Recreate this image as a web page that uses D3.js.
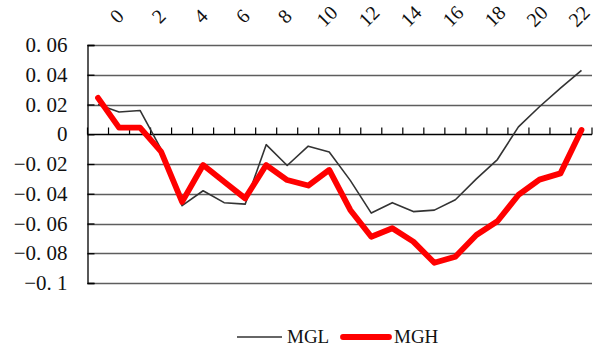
<!DOCTYPE html>
<html>
<head>
<meta charset="utf-8">
<script src="https://cdn.jsdelivr.net/npm/d3@7"></script>
<style>
  html, body { margin: 0; padding: 0; background: #fff; }
  svg { display: block; }
  text { font-family: "Liberation Serif", "Times New Roman", serif; fill: #111; }
</style>
</head>
<body>
<svg id="chart" width="599" height="350"></svg>
<script>
const categories = [-1, 0, 1, 2, 3, 4, 5, 6, 7, 8, 9, 10, 11, 12, 13, 14, 15, 16, 17, 18, 19, 20, 21, 22];
const mgl = [0.020, 0.015, 0.016, -0.010, -0.048, -0.038, -0.046, -0.047, -0.007, -0.021, -0.008, -0.012,
             -0.031, -0.053, -0.046, -0.052, -0.051, -0.044, -0.030, -0.017, 0.005, 0.0185, 0.031, 0.043];
const mgh = [0.0245, 0.0044, 0.0044, -0.0117, -0.0455, -0.0207, -0.0319, -0.0431, -0.0207, -0.0308, -0.0345, -0.024,
             -0.0509, -0.0689, -0.0632, -0.0722, -0.0864, -0.0823, -0.0677, -0.0585, -0.0408, -0.0305, -0.0263, 0.0029];
const yTicks = [0.06, 0.04, 0.02, 0, -0.02, -0.04, -0.06, -0.08, -0.1];
const yTickLabels = ["0. 06", "0. 04", "0. 02", "0", "\u22120. 02", "\u22120. 04", "\u22120. 06", "\u22120. 08", "\u22120. 1"];
const seriesNames = ["MGL", "MGH"];

const svg = d3.select("#chart");
const pLeft = 87.5, pRight = 592, pTop = 45, pBottom = 283;

const x = d3.scaleBand().domain(categories).range([pLeft, pRight]).padding(0);
const y = d3.scaleLinear().domain([-0.1, 0.06]).range([pBottom, pTop]);
const cx = d => x(d) + x.bandwidth() / 2;

// gridlines
svg.append("g").selectAll("line").data(yTicks.filter(v => v !== 0)).join("line")
  .attr("x1", pLeft).attr("x2", pRight)
  .attr("y1", d => Math.round(y(d)) + 0.5).attr("y2", d => Math.round(y(d)) + 0.5)
  .attr("stroke", "#5e5e5e").attr("stroke-width", 1.4);

// y axis
const yAxis = d3.axisLeft(y).tickValues(yTicks).tickSize(-7).tickPadding(26)
  .tickFormat((d, i) => yTickLabels[i]);
const gy = svg.append("g").attr("transform", `translate(${pLeft},0)`).call(yAxis);
gy.select(".domain").attr("stroke", "#000").attr("stroke-width", 1.3);
gy.selectAll(".tick line").attr("stroke", "#000").attr("stroke-width", 1.3);
gy.selectAll(".tick text").attr("font-size", 21).attr("fill", "#111")
  .attr("font-family", "'Liberation Serif', serif").attr("dx", "6");

// x axis at zero (ticks upward at category boundaries)
const y0 = Math.round(y(0)) + 0.5;
const gx = svg.append("g");
gx.append("line").attr("x1", pLeft).attr("x2", pRight).attr("y1", y0).attr("y2", y0)
  .attr("stroke", "#000").attr("stroke-width", 1.3);
gx.selectAll("line.tk").data(categories.concat(["end"])).join("line").attr("class", "tk")
  .attr("x1", (d, i) => pLeft + i * x.bandwidth()).attr("x2", (d, i) => pLeft + i * x.bandwidth())
  .attr("y1", y0).attr("y2", y0 - 7)
  .attr("stroke", "#000").attr("stroke-width", 1.2);

// x labels at top, rotated
svg.append("g").selectAll("text").data(categories.filter(c => c % 2 === 0)).join("text")
  .attr("transform", d => `translate(${cx(d) - 2.5},16) rotate(-45)`)
  .attr("text-anchor", "middle").attr("dominant-baseline", "central")
  .attr("font-size", 20).text(d => d);

// lines
const line = d3.line().x((d, i) => cx(categories[i])).y(d => y(d));
svg.append("path").datum(mgl).attr("d", line)
  .attr("fill", "none").attr("stroke", "#333").attr("stroke-width", 1.6).attr("stroke-linejoin", "round");
svg.append("path").datum(mgh).attr("d", line)
  .attr("fill", "none").attr("stroke", "#ff0000").attr("stroke-width", 5.8)
  .attr("stroke-linejoin", "round").attr("stroke-linecap", "round");

// legend
const lg = svg.append("g");
lg.append("line").attr("x1", 237).attr("x2", 282).attr("y1", 337).attr("y2", 337)
  .attr("stroke", "#333").attr("stroke-width", 1.6);
lg.append("text").attr("x", 287).attr("y", 343).attr("font-size", 19).text(seriesNames[0]);
lg.append("line").attr("x1", 343).attr("x2", 389).attr("y1", 337).attr("y2", 337)
  .attr("stroke", "#ff0000").attr("stroke-width", 5.8).attr("stroke-linecap", "round");
lg.append("text").attr("x", 394).attr("y", 343).attr("font-size", 19).text(seriesNames[1]);
</script>
</body>
</html>
